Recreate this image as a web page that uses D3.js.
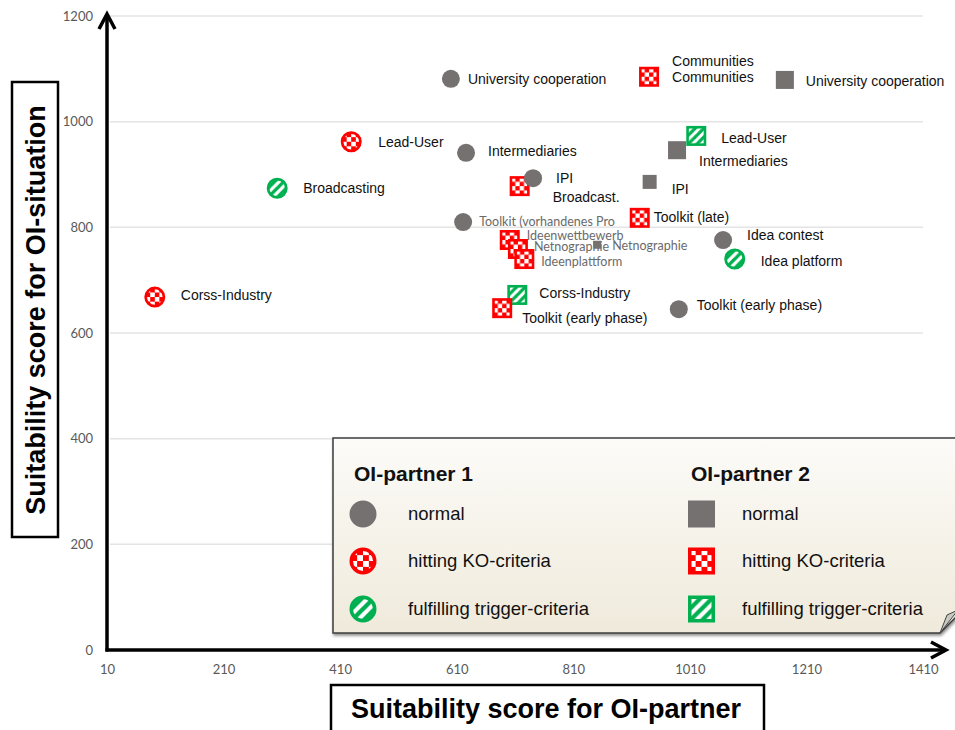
<!DOCTYPE html>
<html>
<head>
<meta charset="utf-8">
<script src="https://cdn.jsdelivr.net/npm/d3@7"></script>
<style>
body { margin: 0; background: #fff; }
svg { display: block; }
</style>
</head>
<body>
<div id="container"></div>
<script>
// axis ticks
var xTicks = [10, 210, 410, 610, 810, 1010, 1210, 1410];
var yTicks = [0, 200, 400, 600, 800, 1000, 1200];

// OI-partner 1 (circles)
var p1Names = ["University cooperation", "Lead-User", "Intermediaries", "Broadcasting", "IPI",
    "Toolkit (vorhandenes Pro", "Corss-Industry", "Idea contest", "Idea platform", "Toolkit (early phase)"];
var p1X = [600, 429, 626, 302, 741, 621, 92, 1067, 1087, 991];
var p1Y = [1081, 962, 941, 874, 893, 810, 668, 776, 740, 645];
var p1Status = ["normal", "ko", "normal", "trigger", "normal", "normal", "ko", "normal", "trigger", "normal"];

// OI-partner 2 (squares)
var p2Names = ["Communities", "University cooperation", "Lead-User", "Intermediaries", "IPI", "Broadcast.",
    "Toolkit (late)", "Ideenwettbewerb", "Netnographie", "Ideenplattform", "Netnographie",
    "Corss-Industry", "Toolkit (early phase)"];
var p2X = [940, 1173, 1021, 988, 941, 718, 924, 701, 715, 726, 851, 714, 688];
var p2Y = [1085, 1079, 973, 946, 886, 878, 818, 776, 759, 740, 767, 672, 647];
var p2Status = ["ko", "normal", "trigger", "normal", "normal", "ko", "ko", "ko", "ko", "ko", "normal", "trigger", "ko"];

// legend
var legendGroups = ["OI-partner 1", "OI-partner 2"];
var legendStatus = ["normal", "ko", "trigger"];
var legendItems = ["normal", "hitting KO-criteria", "fulfilling trigger-criteria"];

// label placement (px from marker centre)
var p1LabelOff = [[17, 0], [27, 0], [22, -2], [26, 0], [23, 0], [16, 0], [26, -2], [24, -5], [26, 2], [18, -4]];
var p2LabelOff = [[23, 0], [21, 1], [25, 2], [22, 11], [22, 7], [33, 11], [14, -1], [17, -4], [16, -2], [17, 3], [15, 1], [22, -2], [20, 10]];
var greyLabels = ["Toolkit (vorhandenes Pro", "Ideenwettbewerb", "Netnographie", "Ideenplattform"];

var width = 955, height = 730;
var red = "#ff0000", green = "#00b050", grey = "#767171";

var svg = d3.select("#container").append("svg")
    .attr("width", width)
    .attr("height", height)
    .style("font-family", "'Liberation Sans', Arial, sans-serif");

var x = d3.scaleLinear().domain([10, 1410]).range([107, 923]);
var y = d3.scaleLinear().domain([0, 1200]).range([650, 16]);

var defs = svg.append("defs");

// checker fill for KO-criteria
var chk = defs.append("pattern").attr("id", "checker")
    .attr("patternUnits", "objectBoundingBox").attr("patternContentUnits", "objectBoundingBox")
    .attr("x", 0).attr("y", 0).attr("width", 0.5).attr("height", 0.5);
chk.append("rect").attr("width", 0.5).attr("height", 0.5).attr("fill", red);
chk.append("rect").attr("width", 0.25).attr("height", 0.25).attr("fill", "#fff");
chk.append("rect").attr("x", 0.25).attr("y", 0.25).attr("width", 0.25).attr("height", 0.25).attr("fill", "#fff");

// diagonal stripes for trigger-criteria
var d = 0.13;
var str = defs.append("pattern").attr("id", "stripes")
    .attr("patternUnits", "objectBoundingBox").attr("patternContentUnits", "objectBoundingBox")
    .attr("width", 0.5).attr("height", 0.5);
str.append("rect").attr("width", 0.5).attr("height", 0.5).attr("fill", "#fff");
str.append("polygon").attr("fill", green)
    .attr("points", [[0.5 - d, 0], [0.5, 0], [0.5, d], [d, 0.5], [0, 0.5], [0, 0.5 - d]].join(" "));
str.append("polygon").attr("fill", green).attr("points", [[0, 0], [d, 0], [0, d]].join(" "));
str.append("polygon").attr("fill", green).attr("points", [[0.5, 0.5], [0.5, 0.5 - d], [0.5 - d, 0.5]].join(" "));

var grad = defs.append("linearGradient").attr("id", "legendBg")
    .attr("x1", 0).attr("y1", 0).attr("x2", 0).attr("y2", 1);
grad.append("stop").attr("offset", "0%").attr("stop-color", "#fcfbf8");
grad.append("stop").attr("offset", "100%").attr("stop-color", "#efeadb");

defs.append("filter").attr("id", "shadow")
    .attr("x", "-5%").attr("y", "-10%").attr("width", "115%").attr("height", "130%")
    .append("feDropShadow").attr("dx", 1).attr("dy", 2).attr("stdDeviation", 1.5)
    .attr("flood-color", "#000").attr("flood-opacity", 0.45);

// grid lines
svg.append("g").selectAll("line")
    .data(yTicks.filter(function (v) { return v > 0; }))
    .enter().append("line")
    .attr("x1", x(10) + 3).attr("x2", x(1410))
    .attr("y1", function (v) { return y(v); })
    .attr("y2", function (v) { return y(v); })
    .attr("stroke", "#e4e4e4").attr("stroke-width", 1.5);

// tick labels
var xAxis = svg.append("g").attr("transform", "translate(0," + y(0) + ")")
    .call(d3.axisBottom(x).tickValues(xTicks).tickSize(0).tickPadding(15).tickFormat(d3.format("d")));
var yAxis = svg.append("g").attr("transform", "translate(" + x(10) + ",0)")
    .call(d3.axisLeft(y).tickValues(yTicks).tickSize(0).tickPadding(14).tickFormat(d3.format("d")));
[xAxis, yAxis].forEach(function (a) {
    a.select(".domain").remove();
    a.selectAll("text").attr("fill", "#595959")
        .style("font-family", "Lato, 'Open Sans', sans-serif").style("font-size", "13px");
});

// axis lines with arrow heads
var ax = svg.append("g").attr("fill", "none").attr("stroke", "#000")
    .attr("stroke-width", 3.5).attr("stroke-linejoin", "miter");
ax.append("path").attr("d", "M" + x(10) + "," + (y(0) + 1.5) + "V14");
ax.append("path").attr("d", "M" + (x(10) - 8) + ",29L" + x(10) + ",14L" + (x(10) + 8) + ",29");
ax.append("path").attr("d", "M" + (x(10) - 1.5) + "," + y(0) + "H945");
ax.append("path").attr("d", "M931," + (y(0) - 8) + "L946," + y(0) + "L931," + (y(0) + 8));

function drawMarker(g, shape, status, s) {
    var sw = status === "normal" ? 0 : s * 0.13;
    var fill = status === "normal" ? grey : (status === "ko" ? "url(#checker)" : "url(#stripes)");
    var stroke = status === "normal" ? "none" : (status === "ko" ? red : green);
    if (shape === "circle") {
        g.append("circle").attr("r", (s - sw) / 2)
            .attr("fill", fill).attr("stroke", stroke).attr("stroke-width", sw);
    } else {
        g.append("rect").attr("x", -(s - sw) / 2).attr("y", -(s - sw) / 2)
            .attr("width", s - sw).attr("height", s - sw)
            .attr("fill", fill).attr("stroke", stroke).attr("stroke-width", sw);
    }
}

// labels
function addLabels(names, xs, ys, offs) {
    svg.append("g").selectAll("text").data(names).enter().append("text")
        .attr("x", function (n, i) { return x(xs[i]) + offs[i][0]; })
        .attr("y", function (n, i) { return y(ys[i]) + offs[i][1]; })
        .attr("dy", "0.35em")
        .attr("fill", function (n) { return greyLabels.indexOf(n) >= 0 ? "#6a6a6a" : "#111"; })
        .style("font-family", function (n) { return greyLabels.indexOf(n) >= 0 ? "Lato, sans-serif" : null; })
        .style("font-size", function (n) { return greyLabels.indexOf(n) >= 0 ? "12.5px" : "14px"; })
        .text(function (n) { return n; });
}
addLabels(p1Names, p1X, p1Y, p1LabelOff);
addLabels(p2Names, p2X, p2Y, p2LabelOff);
// the Communities label is printed twice in the original
svg.append("text").attr("x", x(p2X[0]) + 23).attr("y", y(p2Y[0]) - 16).attr("dy", "0.35em")
    .attr("fill", "#111").style("font-size", "14px").text(p2Names[0]);

// OI-partner 2 squares
svg.append("g").selectAll("g").data(p2Names).enter().append("g")
    .attr("transform", function (n, i) { return "translate(" + x(p2X[i]) + "," + y(p2Y[i]) + ")"; })
    .each(function (n, i) {
        var s = p2Status[i] === "normal" ? 18 : 20;
        if (i === 4) s = 14;
        if (i === 10) s = 8;
        drawMarker(d3.select(this), "square", p2Status[i], s);
    });

// OI-partner 1 circles
svg.append("g").selectAll("g").data(p1Names).enter().append("g")
    .attr("transform", function (n, i) { return "translate(" + x(p1X[i]) + "," + y(p1Y[i]) + ")"; })
    .each(function (n, i) {
        drawMarker(d3.select(this), "circle", p1Status[i], p1Status[i] === "normal" ? 18 : 21);
    });

// legend
var lg = svg.append("g");
lg.append("path")
    .attr("d", "M333,438H962V611L940,633H333Z")
    .attr("fill", "url(#legendBg)").attr("stroke", "#3c3c3c").attr("stroke-width", 1.5)
    .attr("filter", "url(#shadow)");
lg.append("path").attr("d", "M940,633L947,615L958,610Z")
    .attr("fill", "#c9c9c4").attr("stroke", "#444").attr("stroke-width", 1);

var colX = [354, 691], symX = [363, 701.5], txtX = [408, 742], rowY = [514, 561, 609];
legendGroups.forEach(function (title, c) {
    lg.append("text").attr("x", colX[c]).attr("y", 481)
        .style("font-size", "21px").style("font-weight", "bold").attr("fill", "#111").text(title);
    legendStatus.forEach(function (st, r) {
        drawMarker(lg.append("g").attr("transform", "translate(" + symX[c] + "," + rowY[r] + ")"),
            c === 0 ? "circle" : "square", st, 27);
        lg.append("text").attr("x", txtX[c]).attr("y", rowY[r]).attr("dy", "0.35em")
            .style("font-size", "18.5px").attr("fill", "#111").text(legendItems[r]);
    });
});

// axis titles in boxes
svg.append("rect").attr("x", 12).attr("y", 82).attr("width", 46).attr("height", 455)
    .attr("fill", "#fff").attr("stroke", "#000").attr("stroke-width", 2.5);
svg.append("text").attr("transform", "translate(45,310) rotate(-90)")
    .attr("text-anchor", "middle").style("font-size", "27px").style("font-weight", "bold")
    .text("Suitability score for OI-situation");

svg.append("rect").attr("x", 331).attr("y", 685).attr("width", 433).attr("height", 60)
    .attr("fill", "#fff").attr("stroke", "#000").attr("stroke-width", 2.5);
svg.append("text").attr("x", 546).attr("y", 718)
    .attr("text-anchor", "middle").style("font-size", "27px").style("font-weight", "bold")
    .text("Suitability score for OI-partner");
</script>
</body>
</html>
